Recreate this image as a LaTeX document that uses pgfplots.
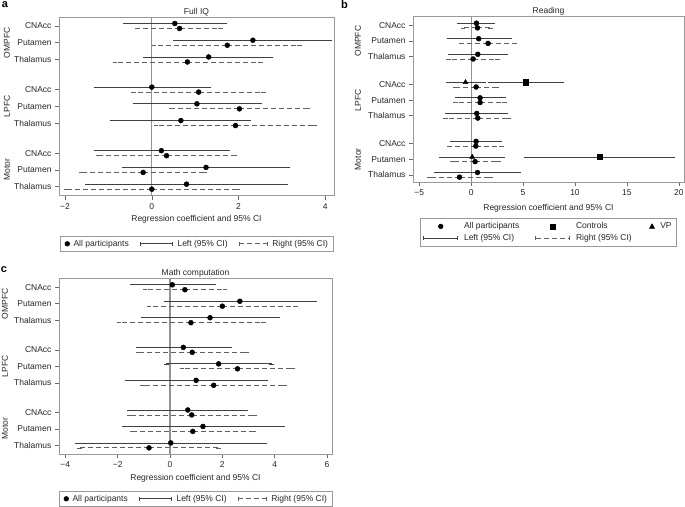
\documentclass[border=0pt]{standalone}
\usepackage{fontspec}
\setmainfont{Liberation Sans}
\usepackage{pgfplots}
\pgfplotsset{compat=1.18}
\usepackage{pgfplotstable}

% Panel a: Full IQ
\pgfplotstableread{
y x lo hi
0.85 0.53 -0.62 1.68
1.85 2.33 0.54 4.10
2.85 1.31 -0.14 2.75
4.65 0.00 -1.29 1.32
5.65 1.04 -0.39 2.48
6.65 0.67 -0.90 2.24
8.45 0.22 -1.29 1.74
9.45 1.25 -0.63 3.13
10.45 0.80 -1.48 3.09
}\aL
\pgfplotstableread{
y x lo hi
1.15 0.64 -0.33 1.59
2.15 1.74 0.05 3.41
3.15 0.82 -0.85 2.50
4.95 1.08 -0.42 2.57
5.95 2.02 0.45 3.60
6.95 1.93 0.10 3.76
8.75 0.34 -1.23 1.92
9.75 -0.20 -1.63 1.23
10.75 0.00 -1.97 1.97
}\aR
% Panel b: Reading
\pgfplotstableread{
y x lo hi
0.85 0.51 -1.12 2.04
1.85 0.73 -2.14 3.67
2.85 0.64 -2.01 3.35
5.65 0.86 -1.34 3.13
6.65 0.54 -2.27 3.35
8.45 0.48 -1.82 2.75
10.45 0.61 -3.39 4.54
}\bL
\pgfplotstableread{
y x lo hi
4.65 -0.54 -2.24 1.18
9.45 0.10 -2.88 3.04
}\bLvp
\pgfplotstableread{
y x lo hi
4.65 5.27 1.85 8.69
9.45 12.36 5.34 19.42
}\bLctl
\pgfplotstableread{
y x lo hi
1.15 0.61 -0.80 1.88
2.15 1.63 -0.93 4.15
3.15 0.19 -2.17 2.56
4.95 0.48 -1.50 2.43
5.95 0.86 -1.53 3.19
6.95 0.64 -2.46 3.61
8.75 0.45 -2.08 2.91
9.75 0.38 -1.82 2.62
10.75 -1.12 -4.06 1.88
}\bR
% Panel c: Math computation
\pgfplotstableread{
y x lo hi
0.85 0.09 -1.43 1.66
1.85 2.67 -0.14 5.52
2.85 1.53 -1.03 4.10
4.65 0.51 -1.22 2.27
5.65 1.86 -0.14 3.88
6.65 1.00 -1.63 3.64
8.45 0.68 -1.56 2.91
9.45 1.26 -1.73 4.30
10.45 0.03 -3.55 3.62
}\cL
\pgfplotstableread{
y x lo hi
1.15 0.57 -0.96 2.10
2.15 2.00 -0.80 4.80
3.15 0.80 -1.95 3.57
4.95 0.85 -1.22 2.95
5.95 2.58 0.46 4.67
6.95 1.67 -1.06 4.40
8.75 0.83 -1.56 3.25
9.75 0.87 -1.43 3.19
10.75 -0.80 -3.46 1.85
}\cR

\definecolor{lcol}{gray}{0.25}
\definecolor{rcol}{gray}{0.38}
\definecolor{boxcol}{gray}{0.6}

\pgfplotsset{
  forest/.style={
    scale only axis, clip=false,
    y dir=reverse,
    ytick={1,2,3,4.8,5.8,6.8,8.6,9.6,10.6},
    yticklabels={CNAcc,Putamen,Thalamus,CNAcc,Putamen,Thalamus,CNAcc,Putamen,Thalamus},
    tick align=outside, xtick pos=bottom, ytick pos=left,
    major tick length=4bp,
    axis line style={boxcol, line width=0.7bp},
    tick style={boxcol!70!black, line width=0.6bp},
    font=\fontsize{8.5bp}{10bp}\selectfont,
    tick label style={font=\fontsize{8.5bp}{10bp}\selectfont, text=black!85},
    xlabel={Regression coefficient and 95\% CI},
    xlabel style={at={(0.5,0)}, anchor=base, yshift=-26bp, text=black!85},
    title style={at={(0.5,1)}, anchor=base, yshift=-3bp, text=black!85},
    legend cell align=left,
    legend style={draw=boxcol, line width=0.6bp, font=\fontsize{8.5bp}{10bp}\selectfont,
      text=black!85, at={(0.5,0)}, anchor=north, legend columns=3,
      /tikz/every even column/.append style={column sep=9bp}},
  },
  table/ciexpr/.style={x=x, y=y, x error plus expr=\thisrow{hi}-\thisrow{x}, x error minus expr=\thisrow{x}-\thisrow{lo}},
  leftci/.style={only marks, mark=*, mark size=2.5bp, black, forget plot,
    error bars/x dir=both, error bars/x explicit,
    error bars/error bar style={line width=0.85bp, color=lcol, solid},
    error bars/error mark options={solid, mark size=2.3bp, line width=0.7bp, color=lcol}},
  rightci/.style={only marks, mark=*, mark size=2.5bp, black, forget plot,
    error bars/x dir=both, error bars/x explicit,
    error bars/error bar style={line width=0.85bp, color=rcol, dash pattern=on 5bp off 3bp},
    error bars/error mark options={solid, mark size=2.3bp, line width=0.7bp, color=rcol}},
  zeroline/.style={forget plot, no marks, color=gray!85, line width=1.2bp},
}

\newcommand{\dotimg}[2]{\addlegendimage{legend image code/.code={\path (0bp,0bp) (#1,0bp); \fill[black] (#2,0bp) circle (2.3bp);}}}
\newcommand{\leftimg}[1]{\addlegendimage{legend image code/.code={\path (0bp,0bp) ([xshift=3bp]#1,0bp); \draw[lcol, line width=0.8bp] (0bp,0bp) -- (#1,0bp); \draw[lcol, line width=0.7bp] (0bp,-2bp) -- (0bp,2bp) (#1,-2bp) -- (#1,2bp);}}}
\newcommand{\rightimg}[1]{\addlegendimage{legend image code/.code={\path (0bp,0bp) ([xshift=3bp]#1,0bp); \draw[rcol, line width=0.8bp, dash pattern=on 5bp off 3bp] (0bp,0bp) -- (#1,0bp); \draw[rcol, line width=0.7bp] (0bp,-2bp) -- (0bp,2bp) (#1,-2bp) -- (#1,2bp);}}}

\begin{document}
\begin{tikzpicture}
\useasboundingbox (0,0) rectangle (685bp,507bp);

% ---------- Panel a ----------
\begin{axis}[forest, at={(59bp,311.3bp)}, anchor=south west,
  width=275bp, height=178.4bp,
  xmin=-2.14, xmax=4.2, ymin=0.48, ymax=11.14,
  xtick={-2,0,2,4}, xticklabels={−2,0,2,4},
  title={Full IQ}, title style={yshift=0bp},
  legend style={yshift=-40bp}]
\addplot[zeroline] coordinates {(0,0.48) (0,11.14)};
\addplot[leftci] table[ciexpr] {\aL};
\addplot[rightci] table[ciexpr] {\aR};
\dotimg{8bp}{4bp}\addlegendentry{All participants}
\leftimg{32bp}\addlegendentry{Left (95\% CI)}
\rightimg{28bp}\addlegendentry{Right (95\% CI)}
\node[rotate=90, text=black!85] at ([xshift=-52bp]axis cs:-2.14,2) {OMPFC};
\node[rotate=90, text=black!85] at ([xshift=-52bp]axis cs:-2.14,5.8) {LPFC};
\node[rotate=90, text=black!85] at ([xshift=-52bp]axis cs:-2.14,9.6) {Motor};
\end{axis}

% ---------- Panel b ----------
\begin{axis}[forest, at={(413bp,324.7bp)}, anchor=south west,
  width=271bp, height=165.8bp,
  xmin=-5.6, xmax=20.5, ymin=0.42, ymax=11.08,
  xtick={-5,0,5,10,15,20}, xticklabels={−5,0,5,10,15,20},
  title={Reading},
  xlabel style={yshift=-2bp},
  legend style={yshift=-36bp, /tikz/every even column/.append style={column sep=14bp}}]
\addplot[zeroline] coordinates {(0,0.42) (0,11.08)};
\addplot[leftci] table[ciexpr] {\bL};
\addplot[leftci, mark=triangle*, mark size=2.8bp] table[ciexpr] {\bLvp};
\addplot[leftci, mark=square*, mark size=2.6bp] table[ciexpr] {\bLctl};
\addplot[rightci] table[ciexpr] {\bR};
\dotimg{38bp}{17bp}\addlegendentry{All participants}
\addlegendimage{legend image code/.code={\path (0bp,0bp) (38bp,0bp); \fill[black] (14.5bp,-2.5bp) rectangle (19.5bp,2.5bp);}}
\addlegendentry{Controls}
\addlegendimage{legend image code/.code={\path (0bp,0bp) (10bp,0bp); \fill[black] (1.5bp,-2bp) -- (6.5bp,-2bp) -- (4bp,2.5bp) -- cycle;}}
\addlegendentry{VP}
\leftimg{34bp}\addlegendentry{Left (95\% CI)}
\rightimg{34bp}\addlegendentry{Right (95\% CI)}
\node[rotate=90, text=black!85] at ([xshift=-55bp]axis cs:-5.6,2) {OMPFC};
\node[rotate=90, text=black!85] at ([xshift=-55bp]axis cs:-5.6,5.8) {LPFC};
\node[rotate=90, text=black!85] at ([xshift=-55bp]axis cs:-5.6,9.6) {Motor};
\end{axis}

% ---------- Panel c ----------
\begin{axis}[forest, at={(59bp,52.7bp)}, anchor=south west,
  width=273bp, height=175.6bp,
  xmin=-4.24, xmax=6.19, ymin=0.48, ymax=11.14,
  xtick={-4,-2,0,2,4,6}, xticklabels={−4,−2,0,2,4,6},
  title={Math computation},
  legend style={yshift=-36.4bp}]
\addplot[zeroline] coordinates {(0,0.48) (0,11.14)};
\addplot[leftci] table[ciexpr] {\cL};
\addplot[rightci] table[ciexpr] {\cR};
\dotimg{8bp}{4bp}\addlegendentry{All participants}
\leftimg{32bp}\addlegendentry{Left (95\% CI)}
\rightimg{28bp}\addlegendentry{Right (95\% CI)}
\node[rotate=90, text=black!85] at ([xshift=-54bp]axis cs:-4.24,2) {OMPFC};
\node[rotate=90, text=black!85] at ([xshift=-54bp]axis cs:-4.24,5.8) {LPFC};
\node[rotate=90, text=black!85] at ([xshift=-54bp]axis cs:-4.24,9.6) {Motor};
\end{axis}

\node[font=\bfseries\fontsize{11bp}{12bp}\selectfont] at (5bp,502bp) {a};
\node[font=\bfseries\fontsize{11bp}{12bp}\selectfont] at (344.5bp,502bp) {b};
\node[font=\bfseries\fontsize{11bp}{12bp}\selectfont] at (4bp,237bp) {c};
\end{tikzpicture}
\end{document}
